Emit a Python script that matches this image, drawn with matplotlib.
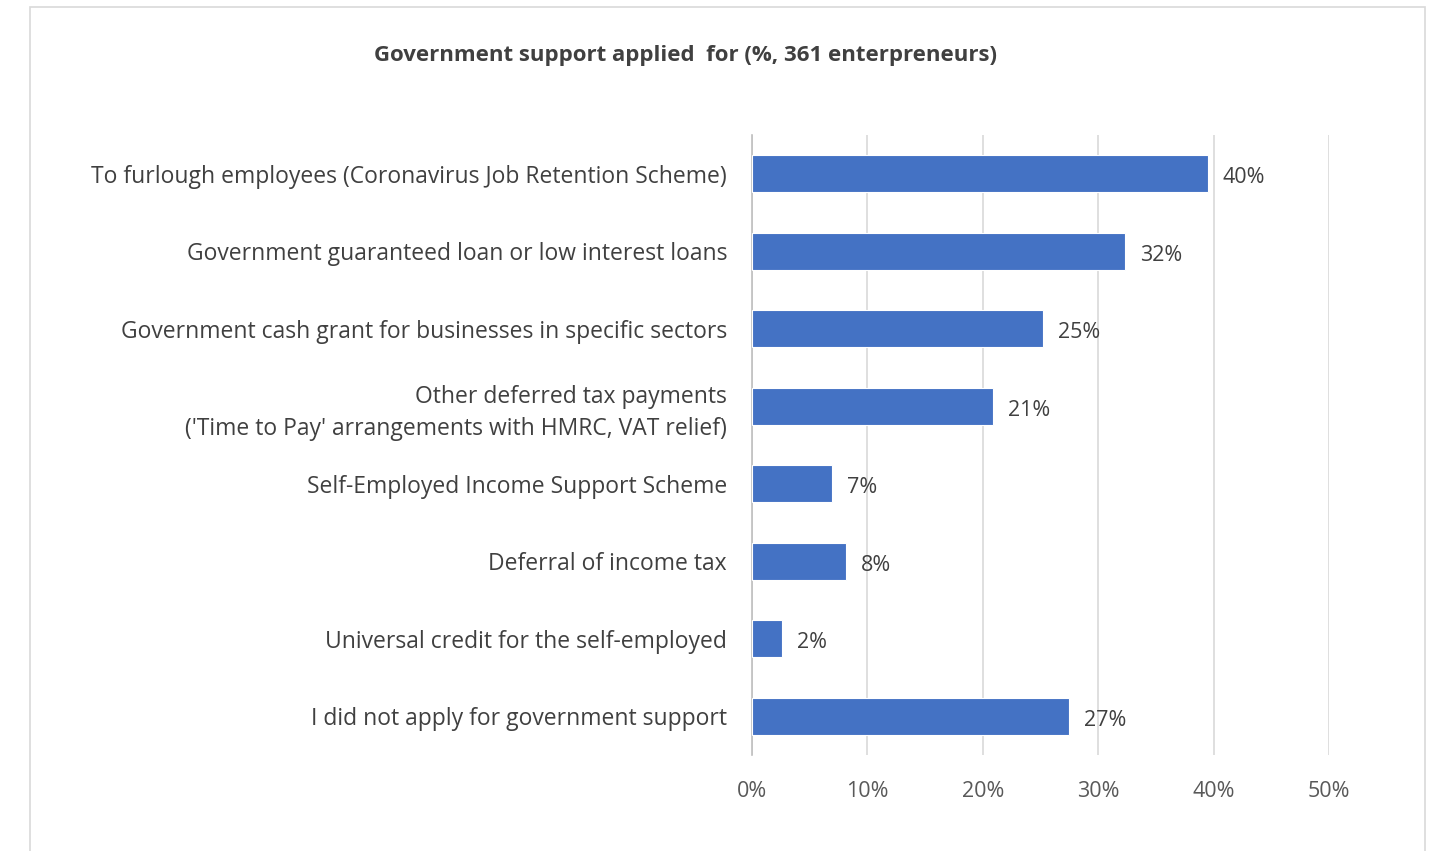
import matplotlib
matplotlib.use('Agg')
import matplotlib.pyplot as plt
from matplotlib.patches import Rectangle

categories = [
    'To furlough employees (Coronavirus Job Retention Scheme)',
    'Government guaranteed loan or low interest loans',
    'Government cash grant for businesses in specific sectors',
    "Other deferred tax payments\n('Time to Pay' arrangements with HMRC, VAT relief)",
    'Self-Employed Income Support Scheme',
    'Deferral of income tax',
    'Universal credit for the self-employed',
    'I did not apply for government support',
]
values = [39.5, 32.3, 25.2, 20.9, 6.9, 8.1, 2.6, 27.5]
value_labels = ['40%', '32%', '25%', '21%', '7%', '8%', '2%', '27%']
xticks = [0, 10, 20, 30, 40, 50]

plt.rcParams['font.family'] = ['Open Sans', 'DejaVu Sans']

fig = plt.figure(figsize=(14.33, 8.51), dpi=100)
fig.patch.set_facecolor('white')
ax = fig.add_axes([0.5248, 0.1128, 0.4026, 0.7286])

# light chart-area frame
fig.patches.append(Rectangle((30 / 1433, -0.01), 1395 / 1433, 1.01 - 7 / 851,
                             transform=fig.transFigure, fill=False,
                             edgecolor='#d9d9d9', lw=1.2))

ypos = list(range(len(categories)))
ax.barh(ypos, values, height=0.48, color='#4472C4', edgecolor='white', lw=0.8, zorder=3)

for y, v, lbl in zip(ypos, values, value_labels):
    ax.text(v + 1.3, y + 0.05, lbl, va='center', ha='left', fontsize=15.5, color='#404040')

ax.set_ylim(len(categories) - 0.5, -0.5)
ax.set_xlim(0, 50)
ax.set_xticks(xticks)
ax.set_xticklabels([f'{t}%' for t in xticks], fontsize=15.5, color='#595959')
ax.set_yticks(ypos)
ax.set_yticklabels(categories, fontsize=16.5, color='#404040')
for t in ax.get_yticklabels():
    t.set_linespacing(1.45)
ax.tick_params(axis='y', length=0, pad=18)
ax.tick_params(axis='x', length=0, pad=19)
ax.grid(axis='x', color='#d9d9d9', lw=1.2, zorder=0)
for s in ['top', 'right', 'bottom']:
    ax.spines[s].set_visible(False)
ax.spines['left'].set_color('#bfbfbf')
ax.spines['left'].set_linewidth(1.2)

fig.text(685 / 1433, 1 - 56 / 851, 'Government support applied  for (%, 361 enterpreneurs)',
         ha='center', va='center', fontsize=16, fontweight='bold', color='#404040')

fig.savefig('out.png', dpi=100, facecolor='white')
